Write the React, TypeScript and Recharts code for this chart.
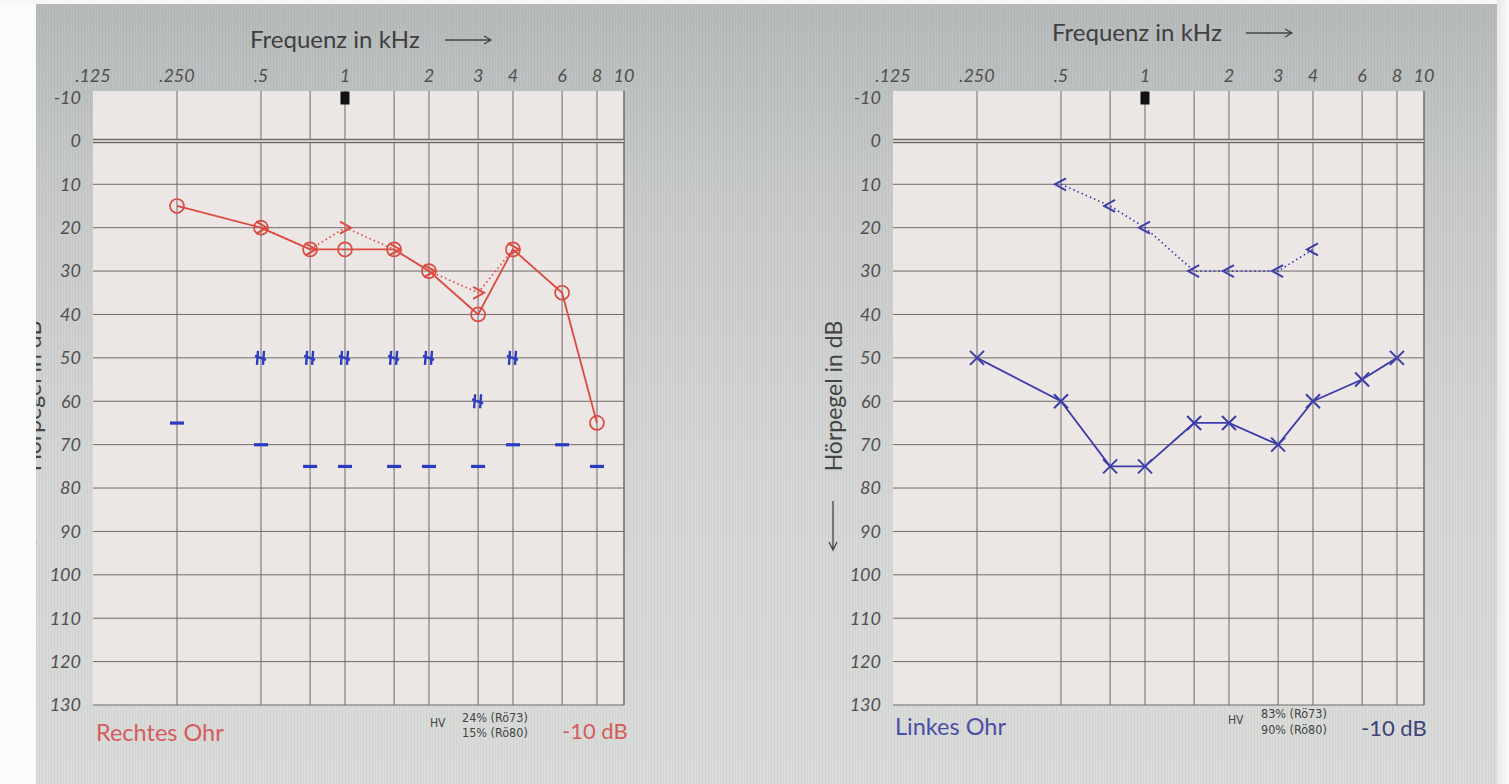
import React from 'react';
import {
  ComposedChart,
  Line,
  XAxis,
  YAxis,
  ReferenceLine,
  ReferenceArea,
  ReferenceDot,
} from 'recharts';

// axis ticks
const FREQ_TICKS = [0.125, 0.25, 0.5, 1, 2, 3, 4, 6, 8, 10];
const FREQ_LABELS = ['.125', '.250', '.5', '1', '2', '3', '4', '6', '8', '10'];
const GRID_FREQS = [0.25, 0.5, 0.75, 1, 1.5, 2, 3, 4, 6, 8, 10];
const DB_TICKS = [-10, 0, 10, 20, 30, 40, 50, 60, 70, 80, 90, 100, 110, 120, 130];
const GRID_DB = [10, 20, 30, 40, 50, 60, 70, 80, 90, 100, 110, 120, 130];

// right ear (Rechtes Ohr)
const R_AIR_F = [0.25, 0.5, 0.75, 1, 1.5, 2, 3, 4, 6, 8];
const R_AIR_DB = [15, 20, 25, 25, 25, 30, 40, 25, 35, 65];
const R_BONE_F = [0.5, 0.75, 1, 1.5, 2, 3, 4];
const R_BONE_DB = [20, 25, 20, 25, 30, 35, 25];
const R_MASK_F = [0.5, 0.75, 1, 1.5, 2, 3, 4];
const R_MASK_DB = [50, 50, 50, 50, 50, 60, 50];
const R_DASH_F = [0.25, 0.5, 0.75, 1, 1.5, 2, 3, 4, 6, 8];
const R_DASH_DB = [65, 70, 75, 75, 75, 75, 75, 70, 70, 75];

// left ear (Linkes Ohr)
const L_AIR_F = [0.25, 0.5, 0.75, 1, 1.5, 2, 3, 4, 6, 8];
const L_AIR_DB = [50, 60, 75, 75, 65, 65, 70, 60, 55, 50];
const L_BONE_F = [0.5, 0.75, 1, 1.5, 2, 3, 4];
const L_BONE_DB = [10, 15, 20, 30, 30, 30, 25];

const RED = '#dc4a40';
const BLUE = '#3c3caa';
const MASK_BLUE = '#2b3cc2';
const GRID = '#6f6b6b';
const PLOT_BG = '#ece7e5';
const TICK_STYLE = { fill: '#505050', fontSize: 18, fontStyle: 'italic' };

type Pt = { f: number; db: number };
const pts = (f: number[], db: number[]): Pt[] => f.map((x, i) => ({ f: x, db: db[i] }));

const circleDot = (p: any) => (
  <circle key={`c${p.index}`} cx={p.cx} cy={p.cy} r={7} fill="none" stroke={RED} strokeWidth={1.7} />
);
const rightBracketDot = (p: any) => (
  <path key={`r${p.index}`} d={`M${p.cx - 5},${p.cy - 6}L${p.cx + 6},${p.cy}L${p.cx - 5},${p.cy + 6}`}
    fill="none" stroke={RED} strokeWidth={2} />
);
const crossDot = (p: any) => (
  <path key={`x${p.index}`} d={`M${p.cx - 7},${p.cy - 7}L${p.cx + 7},${p.cy + 7}M${p.cx - 7},${p.cy + 7}L${p.cx + 7},${p.cy - 7}`}
    fill="none" stroke={BLUE} strokeWidth={2} />
);
const leftBracketDot = (p: any) => (
  <path key={`l${p.index}`} d={`M${p.cx + 5},${p.cy - 6}L${p.cx - 6},${p.cy}L${p.cx + 5},${p.cy + 6}`}
    fill="none" stroke={BLUE} strokeWidth={2} />
);
const maskDot = (p: any) => (
  <path key={`m${p.index}`}
    d={`M${p.cx - 3},${p.cy - 7}L${p.cx - 4},${p.cy + 7}M${p.cx + 3},${p.cy - 7}L${p.cx + 2},${p.cy + 7}M${p.cx - 6},${p.cy - 2}L${p.cx + 5},${p.cy + 2}`}
    fill="none" stroke={MASK_BLUE} strokeWidth={2.4} />
);
const dashDot = (p: any) => (
  <rect key={`d${p.index}`} x={p.cx - 7} y={p.cy - 1.5} width={14} height={3.2} fill={MASK_BLUE} />
);

const fmtFreq = (v: number) => FREQ_LABELS[FREQ_TICKS.indexOf(v)] ?? '';

type Series = { data: Pt[]; dot: (p: any) => React.ReactElement; stroke: string; dashed?: boolean; name: string };

const Audiogram = ({ left, series }: { left: number; series: Series[] }) => (
  <div style={{ position: 'absolute', left, top: 0 }}>
    <ComposedChart width={640} height={784} margin={{ top: 61, right: 16, bottom: 79, left: 33 }}>
      <XAxis
        dataKey="f"
        type="number"
        scale="log"
        domain={[0.125, 10]}
        ticks={FREQ_TICKS}
        tickFormatter={fmtFreq}
        orientation="top"
        axisLine={false}
        tickLine={false}
        interval={0}
        height={30}
        tickMargin={3}
        allowDataOverflow
        tick={TICK_STYLE}
      />
      <YAxis
        dataKey="db"
        type="number"
        domain={[-11.5, 130]}
        ticks={DB_TICKS}
        reversed
        axisLine={false}
        tickLine={false}
        interval={0}
        width={60}
        tickMargin={6}
        allowDataOverflow
        tick={TICK_STYLE}
      />
      <ReferenceArea x1={0.125} x2={10} y1={-11.5} y2={130} fill={PLOT_BG} fillOpacity={1} stroke="none" />
      {GRID_DB.map((d) => (
        <ReferenceLine key={`h${d}`} y={d} stroke={GRID} strokeWidth={1} />
      ))}
      {GRID_FREQS.map((f) => (
        <ReferenceLine key={`v${f}`} x={f} stroke={GRID} strokeWidth={f === 10 ? 1.5 : 1} />
      ))}
      <ReferenceLine y={0} stroke={GRID} strokeWidth={4.5} />
      <ReferenceLine y={0} stroke={PLOT_BG} strokeWidth={1.5} />
      <ReferenceDot
        x={1}
        y={-10}
        r={5}
        shape={(p: any) => <rect x={p.cx - 4.5} y={p.cy - 6} width={9} height={13} fill="#111" />}
      />
      {series.map((s) => (
        <Line
          key={s.name}
          name={s.name}
          data={s.data}
          dataKey="db"
          type="linear"
          stroke={s.stroke}
          strokeWidth={s.dashed ? 1.7 : 1.8}
          strokeDasharray={s.dashed ? '1.5 3' : undefined}
          dot={s.dot}
          activeDot={false}
          isAnimationActive={false}
        />
      ))}
    </ComposedChart>
  </div>
);

const RIGHT_SERIES: Series[] = [
  { name: 'r-dash', data: pts(R_DASH_F, R_DASH_DB), dot: dashDot, stroke: 'none' },
  { name: 'r-mask', data: pts(R_MASK_F, R_MASK_DB), dot: maskDot, stroke: 'none' },
  { name: 'r-bone', data: pts(R_BONE_F, R_BONE_DB), dot: rightBracketDot, stroke: RED, dashed: true },
  { name: 'r-air', data: pts(R_AIR_F, R_AIR_DB), dot: circleDot, stroke: RED },
];
const LEFT_SERIES: Series[] = [
  { name: 'l-bone', data: pts(L_BONE_F, L_BONE_DB), dot: leftBracketDot, stroke: BLUE, dashed: true },
  { name: 'l-air', data: pts(L_AIR_F, L_AIR_DB), dot: crossDot, stroke: BLUE },
];

const txt = (left: number, top: number, size: number, color: string, extra: React.CSSProperties = {}): React.CSSProperties => ({
  position: 'absolute', left, top, fontSize: size, color, lineHeight: `${size + 2}px`, whiteSpace: 'nowrap', ...extra,
});
const NARROW: React.CSSProperties = { fontFamily: "'Liberation Sans Narrow', 'DejaVu Sans Condensed', sans-serif" };

const Arrow = ({ left, top }: { left: number; top: number }) => (
  <svg style={{ position: 'absolute', left, top }} width={50} height={12}>
    <path d="M1,6H47M40,2L47,6L40,10" fill="none" stroke="#444" strokeWidth={1.3} />
  </svg>
);

const YLabel = ({ cx }: { cx: number }) => (
  <>
    <div style={txt(cx, 396, 23, '#444', { transform: 'translate(-50%,-50%) rotate(-90deg)' })}>Hörpegel in dB</div>
    <svg style={{ position: 'absolute', left: cx - 7, top: 500 }} width={14} height={52}>
      <path d="M7,1V50M3,42L7,50L11,42" fill="none" stroke="#444" strokeWidth={1.3} />
    </svg>
  </>
);

export default function App() {
  return (
    <div
      style={{
        position: 'absolute', left: 0, top: 0, width: 1509, height: 784, overflow: 'hidden',
        fontFamily: 'Lato, sans-serif',
        background:
          'repeating-linear-gradient(90deg, rgba(0,0,0,0.035) 0px, rgba(0,0,0,0.035) 1px, transparent 1px, transparent 3px), linear-gradient(180deg, #b6baba 0%, #c8cbca 25%, #d4d7d5 60%, #dadcda 100%)',
      }}
    >
      <YLabel cx={32} />
      <YLabel cx={833} />
      <Audiogram left={0} series={RIGHT_SERIES} />
      <Audiogram left={800} series={LEFT_SERIES} />

      <div style={txt(250, 26, 24, '#3f3f3f')}>Frequenz in kHz</div>
      <Arrow left={444} top={34} />
      <div style={txt(1052, 19, 24, '#3f3f3f')}>Frequenz in kHz</div>
      <Arrow left={1245} top={27} />

      <div style={txt(96, 720, 23.5, '#d65c5c')}>Rechtes Ohr</div>
      <div style={txt(430, 716, 12, '#444', NARROW)}>HV</div>
      <div style={txt(462, 711, 12.5, '#444', NARROW)}>24% (Rö73)</div>
      <div style={txt(462, 726, 12.5, '#444', NARROW)}>15% (Rö80)</div>
      <div style={txt(562, 719, 22, '#d65c5c')}>-10 dB</div>

      <div style={txt(895, 714, 23.5, '#4b4fa6')}>Linkes Ohr</div>
      <div style={txt(1228, 713, 12, '#444', NARROW)}>HV</div>
      <div style={txt(1261, 707, 12.5, '#444', NARROW)}>83% (Rö73)</div>
      <div style={txt(1261, 723, 12.5, '#444', NARROW)}>90% (Rö80)</div>
      <div style={txt(1361, 716, 22, '#3d4278')}>-10 dB</div>

      <div style={{ position: 'absolute', left: 0, top: 0, width: 36, height: 784, background: '#fbfbfb' }} />
      <div style={{ position: 'absolute', left: 0, top: 0, width: 1509, height: 4, background: '#f6f6f6' }} />
      <div style={{ position: 'absolute', left: 1497, top: 0, width: 12, height: 784, background: 'linear-gradient(90deg, #e8e8e8, #fafafa)' }} />
    </div>
  );
}
